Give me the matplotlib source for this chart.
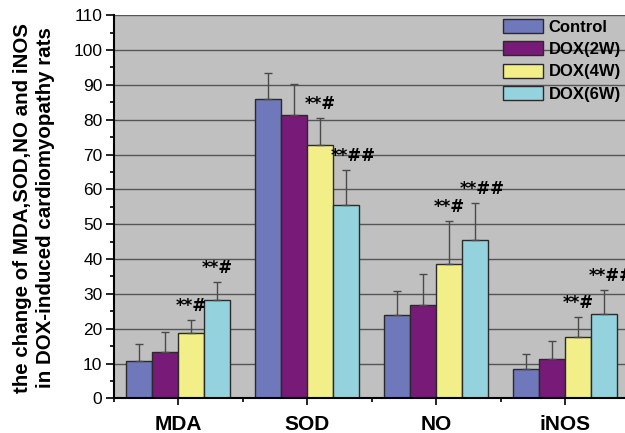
import numpy as np
import matplotlib
matplotlib.use("Agg")
import matplotlib.pyplot as plt

plt.rcParams['font.family'] = ['Liberation Sans', 'DejaVu Sans']

# group means and upper error (SD) for each marker
markers = ['MDA', 'SOD', 'NO', 'iNOS']
groups = ['Control', 'DOX(2W)', 'DOX(4W)', 'DOX(6W)']
means = [
    [10.7, 85.9, 23.9, 8.3],    # Control
    [13.4, 81.3, 26.8, 11.2],   # DOX(2W)
    [18.7, 72.6, 38.7, 17.6],   # DOX(4W)
    [28.3, 55.5, 45.6, 24.1],   # DOX(6W)
]
sds = [
    [4.9, 7.5, 6.9, 4.3],
    [5.7, 8.8, 8.8, 5.4],
    [3.8, 7.9, 12.3, 5.7],
    [5.2, 10.1, 10.6, 6.9],
]
# significance marks over each bar
marks = [
    ['', '', '', ''],
    ['', '', '', ''],
    ['**#', '**#', '**#', '**#'],
    ['**#', '**##', '**##', '**##'],
]
colors = ['#6F78BA', '#771A78', '#F2EE88', '#94D3DD']

fig = plt.figure(figsize=(6.25, 4.33), dpi=100)
ax = fig.add_axes([0.1816, 0.080, 0.8184, 0.885])
ax.set_facecolor('#C0C0C0')

x = np.arange(len(markers))
w = 0.2016
for i, g in enumerate(groups):
    pos = x + (i - 1.5) * w
    ax.bar(pos, means[i], w, color=colors[i], edgecolor='#2A2A2A',
           linewidth=1.0, label=g, zorder=3)
    ax.errorbar(pos, means[i], yerr=[np.zeros(len(markers)), sds[i]],
                fmt='none', ecolor='#4A4A4A', elinewidth=1.0, capsize=2.6,
                capthick=1.0, zorder=4)
    for j in range(len(markers)):
        if marks[i][j]:
            ax.annotate(marks[i][j], (pos[j] - w / 2, means[i][j] + sds[i][j]),
                        xytext=(-2, 9), textcoords='offset pixels',
                        ha='left', va='baseline', fontsize=12,
                        family='DejaVu Sans', fontweight='bold', zorder=5,
                        annotation_clip=False)

ax.set_xlim(-0.5, 3.465)
ax.set_ylim(0, 110)
ax.set_yticks(np.arange(0, 111, 10))
ax.set_yticks(np.arange(0, 111, 5), minor=True)
ax.set_xticks(x)
ax.set_xticks([-0.5, 0.5, 1.5, 2.5], minor=True)
ax.set_xticklabels(markers, fontsize=15, fontweight='bold')
ax.tick_params(axis='y', which='major', length=6, width=1.2, labelsize=12.5, pad=2)
ax.tick_params(axis='y', which='minor', length=3, width=1.2)
ax.tick_params(axis='x', which='major', length=5, width=1.2, pad=7)
ax.tick_params(axis='x', which='minor', length=3, width=1.2)
ax.grid(axis='y', which='major', color='#555555', linewidth=1.0, zorder=1)
ax.set_axisbelow(True)

for s in ['top', 'right']:
    ax.spines[s].set_visible(False)
for s in ['left', 'bottom']:
    ax.spines[s].set_linewidth(1.5)
    ax.spines[s].set_zorder(6)

fig.text(0.054, 0.52,
         'the change of MDA,SOD,NO and iNOS\nin DOX-induced cardiomyopathy rats',
         rotation=90, ha='center', va='center', fontsize=14.8,
         fontweight='bold', linespacing=1.25)

leg = ax.legend(loc='upper left', bbox_to_anchor=(503 / 625, 1 - 19 / 433),
                bbox_transform=fig.transFigure, frameon=False,
                prop={'weight': 'bold', 'size': 12}, handlelength=2.4,
                handleheight=0.9, handletextpad=0.35, labelspacing=0.4,
                borderpad=0, borderaxespad=0)
for h in leg.legend_handles:
    h.set_edgecolor('#2A2A2A')

fig.savefig('out.png', dpi=100)
